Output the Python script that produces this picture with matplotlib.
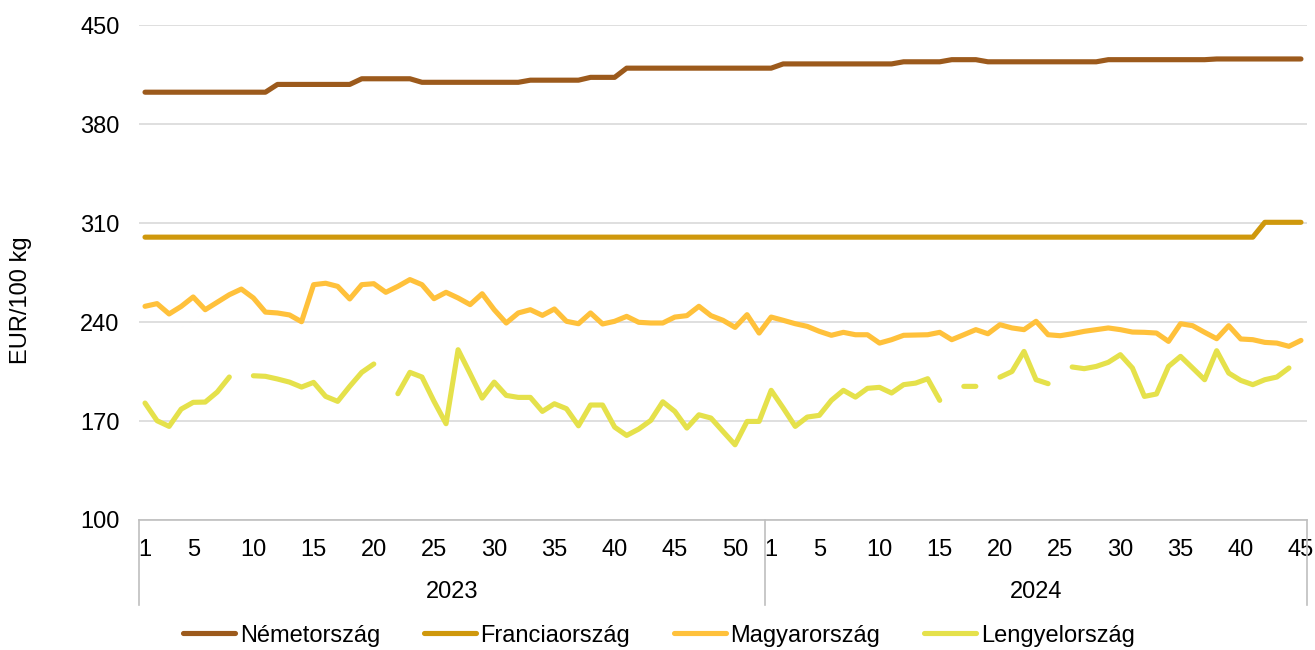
import matplotlib
matplotlib.use("Agg")
import matplotlib.pyplot as plt
import numpy as np

plt.rcParams['font.family'] = ['Liberation Sans', 'DejaVu Sans']

# weeks: 2023 week 1-52, 2024 week 1-45
weeks_2023 = list(range(1, 53))
weeks_2024 = list(range(1, 46))
years = ["2023", "2024"]

nemet = ([402.5] * 11 + [408] * 7 + [412] * 5 + [409.5] * 9 + [411] * 5 + [413] * 3
         + [419.5] * 13 + [422.5] * 10 + [424] * 4 + [425.5] * 3 + [424] * 10
         + [425.5] * 9 + [426] * 8)

francia = [300] * 93 + [310.5] * 4

magyar = [251.1, 253, 245.7, 251, 257.7, 248.7, 254, 259.3, 263.3, 257,
          247, 246.4, 245, 240.2, 266.4, 267.4, 265.2, 256.3, 266.4, 267.1,
          261, 265.2, 270, 266.4, 256.5, 261, 257, 252.3, 260, 248.7,
          239.3, 246.4, 248.7, 244.7, 249.2, 240.5, 238.8, 246.4, 238.6, 240.5,
          244, 239.8, 239.3, 239.3, 243.5, 244.5, 251.1, 244.5, 241.2, 236.2,
          245.2, 232.2, 243.5, 241.2, 238.8, 236.9, 233.4, 230.6, 232.7, 231,
          231, 225.1, 227.5, 230.6, 230.8, 231, 232.7, 227.5, 231, 234.6,
          231.7, 238.1, 235.8, 234.6, 240.5, 231, 230.3, 231.7, 233.4, 234.6,
          235.8, 234.6, 232.9, 232.7, 232.2, 226.3, 238.8, 237.4, 232.7, 228.2,
          237.4, 228, 227.5, 225.6, 225.1, 222.8, 227]

N = np.nan
lengyel = [182.7, 170.2, 166.2, 178.4, 183.2, 183.4, 190.5, 201.1, N, 202,
           201.6, 199.7, 197.5, 194, 197.3, 187.4, 183.9, 194.5, 204.4, 210.3,
           N, 189.3, 204.4, 201.1, 183.9, 168.1, 220.4, 203.5, 186.2, 197.5,
           188.1, 186.7, 186.7, 176.8, 182.2, 178.7, 166.6, 181.3, 181.3, 165.7,
           159.8, 164.3, 170.4, 183.6, 176.8, 165, 174.4, 172.1, 162.6, 153.2,
           169.7, 169.7, 191.7, 179.2, 166.2, 172.8, 174, 184.6, 191.7, 186.9,
           193.1, 193.8, 189.8, 195.7, 196.8, 199.9, 184.6, N, 194.5, 194.5,
           N, 201, 205, 219.2, 199.2, 196.4, N, 208.2, 207, 208.6,
           211.5, 216.9, 207.5, 187.4, 189.1, 208.6, 215.7, 207.5, 199.2, 219.7,
           203.9, 198.7, 195.7, 199.2, 201.1, 207.5, N]

series = [("Németország", nemet, "#9C5A1C"),
          ("Franciaország", francia, "#CF980C"),
          ("Magyarország", magyar, "#FFC13B"),
          ("Lengyelország", lengyel, "#E5E14B")]

x = np.arange(len(weeks_2023) + len(weeks_2024))
FS = 17

fig = plt.figure(figsize=(13.15, 6.5), dpi=100)
ax = fig.add_axes([0.1057, 0.2, 0.8882, 0.7615])

for name, vals, col in series:
    ax.plot(x, vals, color=col, lw=3.7, label=name, solid_capstyle='round')

ax.set_xlim(-0.5, len(x) - 0.5)
ax.set_ylim(100, 450)
ax.set_yticks(np.arange(100, 451, 70))
ax.grid(axis='y', color='#d9d9d9', lw=1.2)
ax.set_axisbelow(True)
for s in ['top', 'right', 'left']:
    ax.spines[s].set_visible(False)
ax.spines['bottom'].set_color('#bfbfbf')
ax.spines['bottom'].set_linewidth(1.2)

# week tick labels
tick_pos, tick_lab = [], []
for off, wk in [(0, weeks_2023), (len(weeks_2023), weeks_2024)]:
    for j, w in enumerate(wk):
        if w == 1 or w % 5 == 0:
            tick_pos.append(off + j)
            tick_lab.append(str(w))
ax.set_xticks(tick_pos)
ax.set_xticklabels(tick_lab)
ax.tick_params(axis='x', length=0, pad=14, labelsize=FS, colors='#000000')
ax.tick_params(axis='y', length=0, pad=14, labelsize=FS)

# year groups
bounds = [-0.5, len(weeks_2023) - 0.5, len(x) - 0.5]
for b in bounds:
    ax.plot([b, b], [0, -0.172], color='#bfbfbf', lw=1.2,
            transform=ax.get_xaxis_transform(), clip_on=False)
for k, yr in enumerate(years):
    ax.text((bounds[k] + bounds[k + 1]) / 2, -0.145, yr, ha='center', va='center',
            fontsize=FS, transform=ax.get_xaxis_transform())

fig.text(0.016, 0.538, "EUR/100 kg", rotation=90, ha='center', va='center', fontsize=FS)

fig.legend(loc='center', bbox_to_anchor=(0.501, 0.022), ncol=4, frameon=False,
           fontsize=FS, handlelength=2.2, handletextpad=0.2, columnspacing=1.85)

fig.savefig("out.png", dpi=100)
